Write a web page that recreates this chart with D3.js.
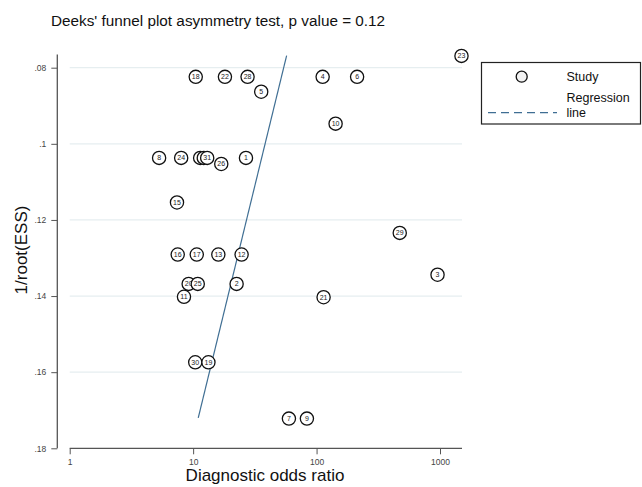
<!DOCTYPE html>
<html><head><meta charset="utf-8">
<script src="https://cdn.jsdelivr.net/npm/d3@7"></script>
<style>body{margin:0;background:#fff}svg{display:block;font-family:"Liberation Sans",Arial,sans-serif}</style>
</head><body><svg id="c" width="642" height="487"></svg>
<script>
const studyIds = [18,22,28,5,4,6,10,23,8,24,14,20,27,31,26,1,15,29,16,17,13,12,3,25,2,11,21,30,19,7,9];
const dorValues = [10.5,18.1,27.6,35.6,112,213,142.6,1493,5.3,8.0,11.4,9.2,12.2,13.0,16.9,26.8,7.4,472,7.5,10.7,16.0,24.7,955,10.9,22.5,8.43,114,10.4,13.3,59.7,83.5];
const invRootEss = [0.0824,0.0824,0.0824,0.0863,0.0824,0.0824,0.0947,0.0769,0.1037,0.1037,0.1037,0.1368,0.1037,0.1037,0.1053,0.1037,0.1154,0.1234,0.1291,0.1291,0.1291,0.1291,0.1344,0.1368,0.1368,0.1402,0.1403,0.1574,0.1574,0.1722,0.1722];
const regressionDor = [57.2, 11.0];
const regressionY = [0.0768, 0.172];
const xTicks = [1,10,100,1000];
const yTicks = [0.08,0.10,0.12,0.14,0.16,0.18];
const yTickLabels = [".08",".1",".12",".14",".16",".18"];

const svg = d3.select("#c");
const x = d3.scaleLog().domain([1,1000]).range([69.7,440]);
const y = d3.scaleLinear().domain([0.08,0.18]).range([67.7,448.3]);

// title
svg.append("text").attr("x",51).attr("y",26).attr("font-size",15.3).attr("fill","#111")
  .text("Deeks' funnel plot asymmetry test, p value = 0.12");

// gridlines
svg.append("g").selectAll("line").data(yTicks.slice(0,5)).join("line")
  .attr("x1",69.7).attr("x2",462).attr("y1",d=>y(d)).attr("y2",d=>y(d))
  .attr("stroke","#e6eef0").attr("stroke-width",1.2);

// y axis
const ya = svg.append("g").attr("transform","translate(57.3,0)")
  .call(d3.axisLeft(y).tickValues(yTicks).tickFormat((d,i)=>yTickLabels[i]).tickSize(6).tickPadding(5));
ya.select(".domain").attr("d",`M0,${y(0.0765)}V${y(0.18)}`).attr("stroke","#555").attr("stroke-width",1.3);
ya.selectAll(".tick line").attr("stroke","#555");
ya.selectAll(".tick text").attr("font-size",8.5).attr("fill","#444").attr("font-family","Liberation Sans,Arial");

// x axis
const xa = svg.append("g").attr("transform",`translate(0,${y(0.18)})`)
  .call(d3.axisBottom(x).tickValues(xTicks).tickFormat(d3.format("d")).tickSize(6).tickPadding(5));
xa.select(".domain").attr("d",`M${x(1)},0H462`).attr("stroke","#555").attr("stroke-width",1.3);
xa.selectAll(".tick line").attr("stroke","#555");
xa.selectAll(".tick text").attr("font-size",8.5).attr("fill","#444").attr("font-family","Liberation Sans,Arial");

// axis titles
svg.append("text").attr("x",265).attr("y",481).attr("text-anchor","middle").attr("font-size",17).attr("fill","#111").text("Diagnostic odds ratio");
svg.append("text").attr("transform","translate(27,250) rotate(-90)").attr("text-anchor","middle").attr("font-size",17).attr("fill","#111").text("1/root(ESS)");

// regression line
const line = d3.line().x(d=>x(d[0])).y(d=>y(d[1]));
svg.append("path").datum(regressionDor.map((d,i)=>[d,regressionY[i]])).attr("d",line)
  .attr("fill","none").attr("stroke","#3f6e93").attr("stroke-width",1.2);

// points
const pts = studyIds.map((id,i)=>({id,dor:dorValues[i],v:invRootEss[i]}));
const g = svg.append("g").selectAll("g").data(pts).join("g")
  .attr("transform",d=>`translate(${x(d.dor)},${y(d.v)})`);
g.append("circle").attr("r",6.6).attr("fill","#fff").attr("stroke","#111").attr("stroke-width",1.3);
g.append("text").attr("text-anchor","middle").attr("dy","0.35em").attr("font-size",7).attr("fill","#222").text(d=>d.id);

// legend
const lg = svg.append("g");
lg.append("rect").attr("x",481.5).attr("y",62.5).attr("width",159).attr("height",61.5).attr("fill","#fff").attr("stroke","#222").attr("stroke-width",1.2);
lg.append("circle").attr("cx",521.7).attr("cy",76.7).attr("r",5.5).attr("fill","#f2f2f2").attr("stroke","#111").attr("stroke-width",1.3);
lg.append("text").attr("x",566.5).attr("y",81).attr("font-size",12.5).attr("fill","#111").text("Study");
lg.append("line").attr("x1",488).attr("x2",557).attr("y1",112.7).attr("y2",112.7).attr("stroke","#3f6e93").attr("stroke-width",1.2).attr("stroke-dasharray","8,5");
lg.append("text").attr("x",566.5).attr("y",102).attr("font-size",12.5).attr("fill","#111").text("Regression");
lg.append("text").attr("x",566.5).attr("y",116.5).attr("font-size",12.5).attr("fill","#111").text("line");
</script></body></html>
